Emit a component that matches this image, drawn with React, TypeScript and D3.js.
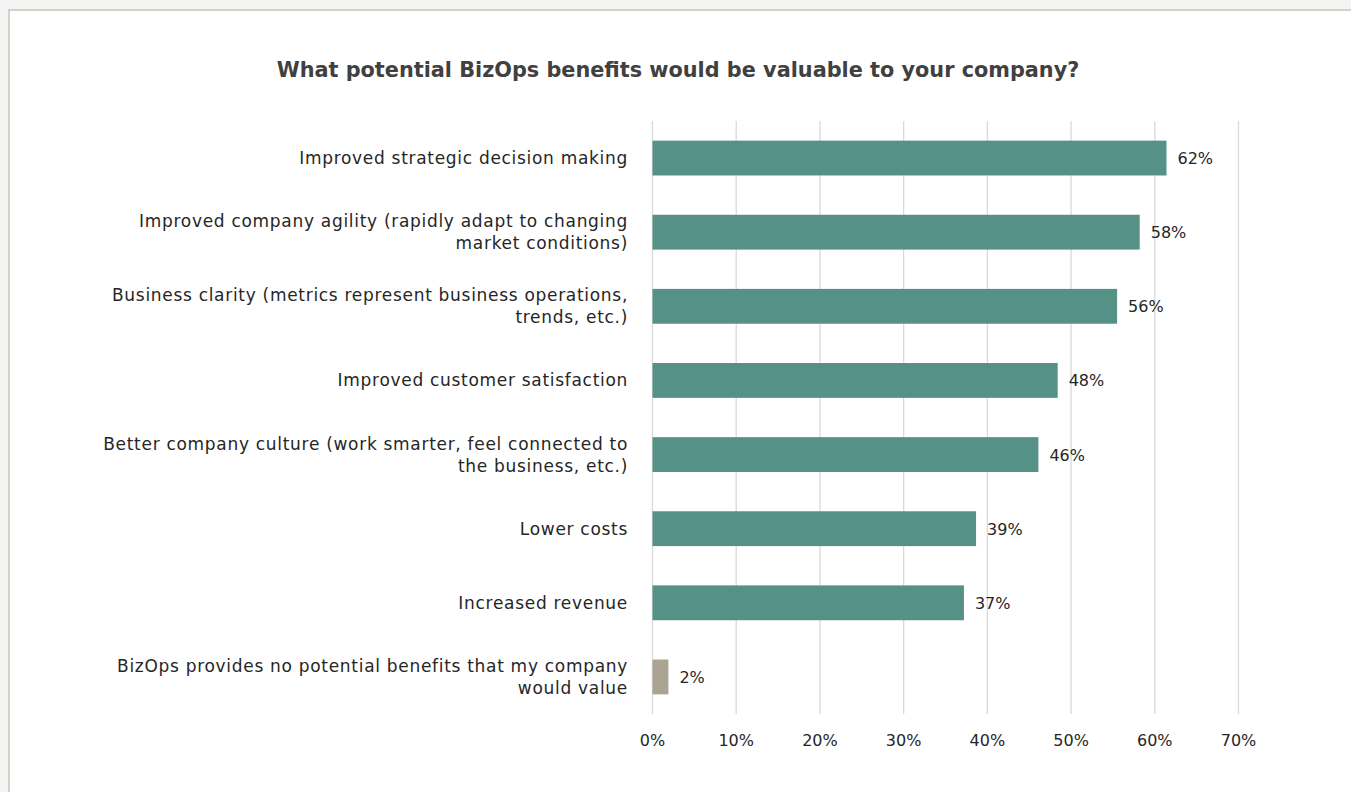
import React from "react";
import * as d3 from "d3";

const title = "What potential BizOps benefits would be valuable to your company?";
const categories = [
  "Improved strategic decision making",
  "Improved company agility (rapidly adapt to changing\nmarket conditions)",
  "Business clarity (metrics represent business operations,\ntrends, etc.)",
  "Improved customer satisfaction",
  "Better company culture (work smarter, feel connected to\nthe business, etc.)",
  "Lower costs",
  "Increased revenue",
  "BizOps provides no potential benefits that my company\nwould value",
];
const values = [0.614, 0.582, 0.555, 0.484, 0.461, 0.3865, 0.372, 0.019];
const valueLabels = ["62%", "58%", "56%", "48%", "46%", "39%", "37%", "2%"];
const ticks = [0, 0.1, 0.2, 0.3, 0.4, 0.5, 0.6, 0.7];

const W = 1351;
const H = 792;
const FONT = "'Century Gothic', 'URW Gothic', 'DejaVu Sans', sans-serif";

export default function App() {
  const x = d3.scaleLinear().domain([0, 0.7]).range([652.5, 1238.5]);
  const y = d3
    .scaleBand<string>()
    .domain(categories)
    .range([121, 714])
    .paddingInner(0.53)
    .paddingOuter(0.265);
  const fmt = d3.format(".0%");

  return (
    <svg
      width={W}
      height={H}
      style={{ position: "absolute", left: 0, top: 0, display: "block" }}
      fontFamily={FONT}
    >
      <rect x={0} y={0} width={W} height={H} fill="#f4f4f4" />
      <rect x={9} y={10} width={W} height={H} fill="#ffffff" stroke="#c8c3b4" strokeWidth={1.5} />
      <text
        x={678}
        y={77}
        textAnchor="middle"
        fontSize={20.8}
        fontWeight="bold"
        fill="#404040"
      >
        {title}
      </text>
      {ticks.map((t) => (
        <g key={t}>
          <line x1={x(t)} x2={x(t)} y1={121} y2={714} stroke="#d9d9d9" strokeWidth={1.3} />
          <text x={x(t)} y={746} textAnchor="middle" fontSize={16} fill="#262626">
            {fmt(t)}
          </text>
        </g>
      ))}
      {categories.map((c, i) => {
        const y0 = y(c)!;
        const bw = y.bandwidth();
        const cy = y0 + bw / 2;
        const lines = c.split("\n");
        const lh = 22;
        const startY = cy - ((lines.length - 1) * lh) / 2 + 6;
        return (
          <g key={c}>
            <rect
              x={x(0)}
              y={y0}
              width={x(values[i]) - x(0)}
              height={bw}
              fill={i === categories.length - 1 ? "#aba493" : "#559186"}
            />
            <text
              x={x(values[i]) + 11}
              y={cy + 6}
              fontSize={16}
              fill="#262626"
            >
              {valueLabels[i]}
            </text>
            {lines.map((ln, j) => (
              <text
                key={j}
                x={628}
                y={startY + j * lh}
                textAnchor="end"
                fontSize={17}
                letterSpacing={0.7}
                fill="#262626"
              >
                {ln}
              </text>
            ))}
          </g>
        );
      })}
    </svg>
  );
}
